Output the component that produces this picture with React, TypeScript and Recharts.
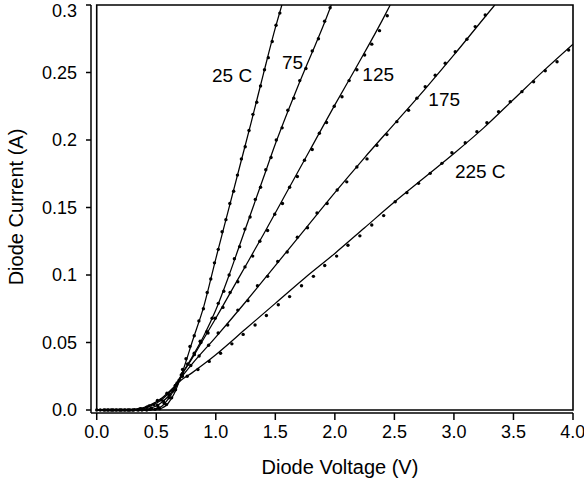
import React from 'react';
import { ComposedChart, Line, Scatter, XAxis, YAxis, ReferenceArea, ReferenceDot, Label } from 'recharts';

const FONT = 'Arial, "Liberation Sans", sans-serif';

const xTicks = [0, 0.5, 1, 1.5, 2, 2.5, 3, 3.5, 4];
const yTicks = [0, 0.05, 0.1, 0.15, 0.2, 0.25, 0.3];
const yTickLabels = ['0.0', '0.05', '0.1', '0.15', '0.2', '0.25', '0.3'];

// fitted curves, [voltage, current]
const fit25 = [[0, 0], [0.4, 0], [0.5, 0.0005], [0.55, 0.0015], [0.6, 0.005], [0.65, 0.012], [0.7, 0.023], [0.75, 0.036], [0.8, 0.05], [0.9, 0.077], [1.0, 0.112], [1.1, 0.146], [1.2, 0.18], [1.3, 0.214], [1.4, 0.249], [1.5, 0.283], [1.555, 0.3]];
const fit75 = [[0, 0], [0.4, 0], [0.5, 0.001], [0.55, 0.003], [0.6, 0.008], [0.65, 0.015], [0.7, 0.024], [0.8, 0.039], [0.9, 0.055], [1.0, 0.074], [1.1, 0.097], [1.2, 0.122], [1.3, 0.147], [1.4, 0.172], [1.5, 0.197], [1.6, 0.22], [1.7, 0.242], [1.8, 0.263], [1.9, 0.284], [1.97, 0.3]];
const fit125 = [[0, 0], [0.3, 0], [0.4, 0.0005], [0.5, 0.003], [0.55, 0.006], [0.6, 0.01], [0.65, 0.016], [0.7, 0.024], [0.8, 0.038], [0.9, 0.053], [1.0, 0.068], [1.2, 0.099], [1.4, 0.13], [1.6, 0.162], [1.8, 0.194], [2.0, 0.226], [2.2, 0.257], [2.4, 0.289], [2.465, 0.3]];
const fit175 = [[0, 0], [0.3, 0], [0.35, 0.0005], [0.4, 0.0015], [0.5, 0.005], [0.55, 0.008], [0.6, 0.012], [0.65, 0.017], [0.7, 0.023], [0.8, 0.034], [1.0, 0.054], [1.25, 0.08], [1.5, 0.107], [1.75, 0.134], [2.0, 0.161], [2.25, 0.187], [2.5, 0.212], [2.75, 0.237], [3.0, 0.263], [3.25, 0.29], [3.343, 0.3]];
const fit225 = [[0, 0], [0.3, 0], [0.35, 0.0008], [0.4, 0.002], [0.5, 0.006], [0.55, 0.009], [0.6, 0.013], [0.65, 0.017], [0.7, 0.0215], [0.8, 0.0275], [0.9, 0.034], [1.0, 0.041], [1.25, 0.06], [1.5, 0.079], [1.75, 0.098], [2.0, 0.116], [2.25, 0.135], [2.5, 0.154], [2.75, 0.172], [3.0, 0.19], [3.25, 0.209], [3.5, 0.23], [3.75, 0.251], [4.0, 0.271]];

// measured points
const meas25 = [[0, 0], [0.07, 0], [0.14, 0], [0.21, 0], [0.28, 0], [0.35, 0], [0.42, 0], [0.49, 0.0005], [0.53, 0.001], [0.586, 0.004], [0.629, 0.009], [0.662, 0.015], [0.692, 0.022], [0.721, 0.03], [0.75, 0.038], [0.783, 0.047], [0.819, 0.055], [0.858, 0.066], [0.896, 0.075], [0.928, 0.087], [0.958, 0.097], [0.989, 0.109], [1.021, 0.119], [1.053, 0.132], [1.085, 0.141], [1.118, 0.153], [1.15, 0.162], [1.182, 0.174], [1.215, 0.186], [1.247, 0.195], [1.279, 0.207], [1.312, 0.219], [1.344, 0.228], [1.376, 0.24], [1.409, 0.252], [1.441, 0.261], [1.474, 0.273], [1.506, 0.285], [1.538, 0.294]];
const meas75 = [[0.03, 0], [0.1, 0], [0.17, 0], [0.24, 0], [0.31, 0], [0.38, 0], [0.45, 0.0005], [0.517, 0.002], [0.567, 0.005], [0.607, 0.009], [0.641, 0.014], [0.675, 0.02], [0.72, 0.027], [0.765, 0.034], [0.819, 0.042], [0.869, 0.051], [0.925, 0.058], [0.969, 0.068], [1.021, 0.079], [1.067, 0.088], [1.112, 0.1], [1.156, 0.112], [1.2, 0.121], [1.244, 0.134], [1.288, 0.143], [1.332, 0.156], [1.376, 0.165], [1.42, 0.178], [1.464, 0.187], [1.508, 0.2], [1.557, 0.209], [1.605, 0.222], [1.655, 0.231], [1.705, 0.244], [1.757, 0.253], [1.81, 0.266], [1.862, 0.275], [1.914, 0.288], [1.96, 0.298]];
const meas125 = [[0.06, 0], [0.13, 0], [0.2, 0], [0.27, 0], [0.34, 0.0002], [0.4, 0.0005], [0.46, 0.0015], [0.51, 0.0035], [0.56, 0.0065], [0.61, 0.011], [0.66, 0.018], [0.71, 0.026], [0.765, 0.034], [0.82, 0.041], [0.875, 0.05], [0.935, 0.057], [0.995, 0.068], [1.06, 0.076], [1.12, 0.087], [1.185, 0.095], [1.245, 0.106], [1.31, 0.114], [1.37, 0.125], [1.435, 0.133], [1.495, 0.145], [1.56, 0.153], [1.62, 0.165], [1.685, 0.173], [1.745, 0.185], [1.81, 0.193], [1.87, 0.205], [1.93, 0.213], [1.995, 0.225], [2.06, 0.232], [2.12, 0.244], [2.185, 0.252], [2.25, 0.263], [2.31, 0.271], [2.375, 0.281], [2.44, 0.292]];
const meas175 = [[0.09, 0], [0.16, 0], [0.23, 0], [0.3, 0], [0.36, 0.0007], [0.42, 0.002], [0.48, 0.004], [0.54, 0.0075], [0.6, 0.012], [0.66, 0.018], [0.72, 0.025], [0.79, 0.033], [0.86, 0.04], [0.94, 0.048], [1.02, 0.057], [1.1, 0.063], [1.185, 0.074], [1.27, 0.081], [1.35, 0.092], [1.435, 0.099], [1.52, 0.11], [1.6, 0.117], [1.685, 0.128], [1.77, 0.135], [1.85, 0.146], [1.935, 0.153], [2.02, 0.163], [2.1, 0.169], [2.185, 0.18], [2.27, 0.186], [2.353, 0.196], [2.437, 0.204], [2.521, 0.2136], [2.619, 0.222], [2.689, 0.231], [2.759, 0.2395], [2.843, 0.248], [2.927, 0.2568], [3.011, 0.2654], [3.109, 0.2746], [3.179, 0.284], [3.263, 0.2926]];
const meas225 = [[0.12, 0], [0.19, 0], [0.26, 0], [0.32, 0.0003], [0.37, 0.001], [0.44, 0.003], [0.51, 0.007], [0.59, 0.0125], [0.67, 0.019], [0.76, 0.025], [0.85, 0.03], [0.945, 0.036], [1.04, 0.042], [1.135, 0.049], [1.23, 0.056], [1.33, 0.063], [1.425, 0.07], [1.525, 0.078], [1.62, 0.084], [1.72, 0.092], [1.82, 0.099], [1.915, 0.107], [2.015, 0.114], [2.11, 0.122], [2.21, 0.129], [2.31, 0.137], [2.41, 0.144], [2.507, 0.1543], [2.605, 0.161], [2.703, 0.1679], [2.801, 0.1753], [2.899, 0.1827], [2.983, 0.1906], [3.095, 0.198], [3.193, 0.2062], [3.277, 0.2128], [3.375, 0.221], [3.473, 0.2284], [3.571, 0.2358], [3.669, 0.2432], [3.767, 0.2513], [3.866, 0.258], [3.963, 0.2667]];

const curveLabels = ['25 C', '75', '125', '175', '225 C'];
const labelV = [1.137, 1.645, 2.364, 2.918, 3.221];
const labelI = [0.2478, 0.2574, 0.2485, 0.23, 0.177];

const toPts = (arr: number[][]) => arr.map(([v, i]) => ({ v, i }));

const series = [
  { fit: fit25, meas: meas25 },
  { fit: fit75, meas: meas75 },
  { fit: fit125, meas: meas125 },
  { fit: fit175, meas: meas175 },
  { fit: fit225, meas: meas225 },
];

const MeasDot = (props: any) => {
  const { cx, cy } = props;
  if (cx == null || cy == null) return null;
  return <circle cx={cx} cy={cy} r={1.7} fill="#000" />;
};

const tickStyle = { fill: '#000', fontSize: 18, fontFamily: FONT };

export default function App() {
  return (
    <div style={{ position: 'absolute', left: 0, top: 0, width: 584, height: 487, background: '#fff' }}>
      <ComposedChart width={584} height={487} margin={{ top: 5, right: 11, bottom: 0, left: 0 }}>
        <XAxis
          type="number"
          dataKey="v"
          domain={[-0.048, 4]}
          allowDataOverflow
          ticks={xTicks}
          tickFormatter={(v: number) => v.toFixed(1)}
          height={74}
          tickSize={7}
          tickMargin={5}
          tick={tickStyle}
          axisLine={{ stroke: '#000', strokeWidth: 1.5 }}
          tickLine={{ stroke: '#000', strokeWidth: 1.5 }}
        >
          <Label value="Diode Voltage (V)" position="center" dx={8} dy={17} fill="#000" fontSize={20} fontFamily={FONT} />
        </XAxis>
        <YAxis
          type="number"
          dataKey="i"
          domain={[-0.00222, 0.3]}
          allowDataOverflow
          ticks={yTicks}
          tickFormatter={(v: number) => yTickLabels[yTicks.indexOf(v)]}
          width={91}
          tickSize={5}
          tickMargin={9}
          tick={tickStyle}
          axisLine={{ stroke: '#000', strokeWidth: 1.5 }}
          tickLine={{ stroke: '#000', strokeWidth: 1.5 }}
        >
          <Label value="Diode Current (A)" position="center" angle={-90} dx={-30} dy={-2} fill="#000" fontSize={20} fontFamily={FONT} />
        </YAxis>
        <ReferenceArea x1={0} x2={4} y1={0} y2={0.3} fill="none" stroke="#000" strokeWidth={1.6} ifOverflow="visible" />
        {series.map((s, k) => (
          <Line
            key={'fit' + k}
            data={toPts(s.fit)}
            dataKey="i"
            type="monotone"
            stroke="#000"
            strokeWidth={1.25}
            dot={false}
            activeDot={false}
            isAnimationActive={false}
          />
        ))}
        {series.map((s, k) => (
          <Scatter key={'meas' + k} data={toPts(s.meas)} dataKey="i" shape={MeasDot} isAnimationActive={false} />
        ))}
        {curveLabels.map((t, k) => (
          <ReferenceDot
            key={t}
            x={labelV[k]}
            y={labelI[k]}
            r={0}
            fill="none"
            stroke="none"
            label={{ value: t, position: 'center', fill: '#000', fontSize: 19, fontFamily: FONT }}
          />
        ))}
      </ComposedChart>
    </div>
  );
}
